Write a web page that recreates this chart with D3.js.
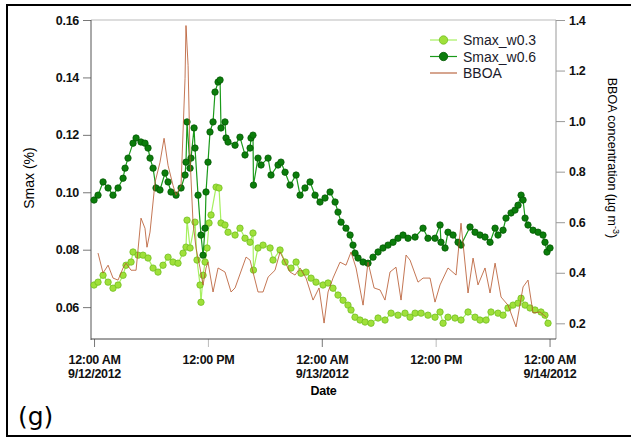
<!DOCTYPE html>
<html>
<head>
<meta charset="utf-8">
<script src="https://cdn.jsdelivr.net/npm/d3@7"></script>
<style>
  body { margin: 0; background: #fff; }
  svg { display: block; }
  .tick text { font-family: "Liberation Sans", Arial, sans-serif; font-weight: bold; font-size: 12.5px; fill: #111; letter-spacing: -0.3px; }
</style>
</head>
<body>
<div id="chart"></div>
<script>
// Data (hours from 9/12/2012 12:00 AM)

var w6Hours = [0, 0.42, 0.95, 1.48, 2.0, 2.53, 3.06, 3.27, 3.58, 4.11, 4.43, 4.95, 5.37, 5.69, 5.90, 6.22, 6.53, 6.95, 7.48, 7.80,
	8.11, 8.64, 9.17, 9.59, 9.69, 9.80, 10.12, 10.22, 10.54, 10.64, 10.96, 11.27, 11.49, 11.70, 11.80, 12.01, 12.22, 12.54, 12.75, 13.07,
	13.28, 13.38, 13.80, 13.91, 14.12, 14.86, 15.38, 15.91, 16.44, 16.54, 16.75, 16.80, 17.28, 17.60, 18.34, 18.65, 19.39, 19.70, 20.13, 20.65,
	21.29, 21.71, 22.23, 22.76, 23.29, 23.81, 24.34, 24.87, 25.40, 25.71, 26.03, 26.55, 26.98, 27.29, 27.50, 27.82, 28.35, 28.87, 29.40, 29.93,
	30.45, 30.98, 31.51, 32.03, 32.56, 33.09, 33.83, 34.67, 35.19, 35.93, 36.46, 36.56, 36.99, 37.30, 37.83, 38.36, 38.67, 39.62, 40.15, 40.67,
	41.20, 41.73, 42.26, 42.57, 43.10, 43.41, 43.94, 44.36, 44.68, 45.00, 45.21, 45.42, 45.73, 46.26, 46.79, 47.31, 47.52, 47.73, 48.05];
var w6Values = [0.0973, 0.0990, 0.1036, 0.1015, 0.0990, 0.1015, 0.1049, 0.1084, 0.1119, 0.1171, 0.1189, 0.1175, 0.1171, 0.1154, 0.1119, 0.1084, 0.1015, 0.1008, 0.1067, 0.1036,
	0.1001, 0.0990, 0.1015, 0.1060, 0.1105, 0.1245, 0.1084, 0.1119, 0.1224, 0.1154, 0.0990, 0.0851, 0.0781, 0.0875, 0.1001, 0.1105, 0.1210, 0.1245, 0.1349, 0.1384,
	0.1391, 0.1224, 0.1245, 0.1189, 0.1175, 0.1164, 0.1192, 0.1130, 0.1154, 0.1189, 0.1199, 0.1025, 0.1119, 0.1095, 0.1119, 0.1060, 0.1095, 0.1105, 0.1070, 0.1025,
	0.1060, 0.0990, 0.1015, 0.1036, 0.0990, 0.0966, 0.0980, 0.1001, 0.0966, 0.0931, 0.0896, 0.0875, 0.0851, 0.0816, 0.0788, 0.0771, 0.0757, 0.0753, 0.0774, 0.0792,
	0.0806, 0.0816, 0.0826, 0.0840, 0.0851, 0.0840, 0.0844, 0.0875, 0.0840, 0.0840, 0.0886, 0.0826, 0.0806, 0.0861, 0.0851, 0.0826, 0.0816, 0.0879, 0.0861, 0.0851,
	0.0844, 0.0826, 0.0875, 0.0851, 0.0868, 0.0910, 0.0928, 0.0938, 0.0955, 0.0990, 0.0973, 0.0910, 0.0886, 0.0868, 0.0861, 0.0851, 0.0826, 0.0792, 0.0806];

var w3Hours = [0, 0.42, 0.95, 1.48, 2.0, 2.53, 3.06, 3.37, 3.90, 4.11, 4.64, 5.16, 5.69, 6.22, 6.74, 7.27, 7.80, 8.32, 8.85, 9.38,
	9.69, 9.80, 10.12, 10.64, 10.85, 11.17, 11.27, 11.49, 11.70, 11.91, 12.12, 12.33, 12.86, 13.17, 13.38, 13.80, 14.12, 14.86, 15.38, 15.91,
	16.44, 16.75, 16.80, 17.28, 17.81, 18.55, 18.86, 19.60, 20.13, 20.76, 21.29, 21.81, 22.34, 22.87, 23.39, 24.13, 24.66, 25.18, 25.71, 26.24,
	26.76, 27.08, 27.50, 28.03, 28.56, 29.19, 29.93, 30.66, 31.30, 32.03, 32.77, 33.30, 33.83, 34.46, 35.19, 35.93, 36.46, 36.78, 37.30, 38.04,
	38.67, 39.41, 40.15, 40.67, 41.31, 41.83, 42.57, 43.10, 43.62, 44.15, 44.68, 45.00, 45.42, 45.94, 46.47, 47.10, 47.52, 47.84];
var w3Values = [0.0677, 0.0687, 0.0711, 0.0687, 0.0666, 0.0677, 0.0711, 0.0746, 0.0757, 0.0792, 0.0781, 0.0781, 0.0771, 0.0736, 0.0722, 0.0746, 0.0774, 0.0757, 0.0753, 0.0788,
	0.0809, 0.0903, 0.0806, 0.0896, 0.0764, 0.0677, 0.0617, 0.0711, 0.0757, 0.0806, 0.0893, 0.0921, 0.1018, 0.1015, 0.0893, 0.0886, 0.0861, 0.0851, 0.0875, 0.0840,
	0.0826, 0.0858, 0.0729, 0.0806, 0.0816, 0.0806, 0.0764, 0.0799, 0.0757, 0.0736, 0.0757, 0.0718, 0.0722, 0.0701, 0.0687, 0.0677, 0.0684, 0.0666, 0.0642, 0.0624,
	0.0607, 0.0590, 0.0565, 0.0555, 0.0548, 0.0544, 0.0562, 0.0555, 0.0579, 0.0572, 0.0579, 0.0565, 0.0579, 0.0579, 0.0572, 0.0565, 0.0583, 0.0544, 0.0565, 0.0562,
	0.0555, 0.0583, 0.0565, 0.0555, 0.0555, 0.0583, 0.0579, 0.0572, 0.0597, 0.0607, 0.0614, 0.0631, 0.0607, 0.0597, 0.0590, 0.0583, 0.0572, 0.0544];

var bboaHours = [0.42, 0.95, 1.48, 2.0, 2.53, 3.06, 3.37, 3.90, 4.43, 4.95, 5.37, 5.58, 5.90, 6.43, 6.95, 7.38, 7.80, 8.32, 8.64, 9.17,
	9.59, 9.69, 9.91, 10.12, 10.43, 10.75, 11.17, 11.49, 11.80, 12.01, 12.54, 13.07, 13.80, 14.44, 14.86, 16.02, 16.44, 16.75, 17.28, 17.81,
	18.34, 19.07, 19.60, 20.13, 20.65, 21.18, 21.71, 22.34, 23.08, 23.71, 24.24, 24.66, 25.18, 25.92, 26.55, 27.08, 27.61, 28.35, 28.87, 29.51,
	30.14, 30.66, 31.19, 31.82, 32.35, 32.88, 33.30, 34.14, 34.67, 35.41, 35.93, 36.46, 37.30, 38.15, 38.67, 39.41, 39.94, 40.46, 41.20, 41.73,
	42.26, 42.89, 43.62, 44.47, 45.21, 45.73, 46.26, 47.00, 47.63];
var bboaValues = [0.478, 0.399, 0.430, 0.379, 0.371, 0.419, 0.438, 0.410, 0.410, 0.616, 0.576, 0.501, 0.561, 0.758, 0.837, 0.932, 0.825, 0.746, 0.707, 0.746,
	1.169, 1.378, 1.220, 0.853, 0.600, 0.497, 0.419, 0.352, 0.419, 0.442, 0.324, 0.419, 0.403, 0.324, 0.340, 0.462, 0.450, 0.403, 0.324, 0.324,
	0.383, 0.410, 0.482, 0.442, 0.403, 0.391, 0.419, 0.379, 0.292, 0.340, 0.201, 0.324, 0.379, 0.442, 0.430, 0.482, 0.419, 0.272, 0.442, 0.340,
	0.332, 0.292, 0.403, 0.422, 0.292, 0.470, 0.450, 0.363, 0.379, 0.379, 0.284, 0.352, 0.419, 0.391, 0.596, 0.320, 0.458, 0.352, 0.419, 0.320,
	0.438, 0.304, 0.272, 0.186, 0.344, 0.371, 0.241, 0.245, 0.225];

var leftTicks = [0.06, 0.08, 0.10, 0.12, 0.14, 0.16];
var rightTicks = [0.2, 0.4, 0.6, 0.8, 1.0, 1.2, 1.4];
var dateTickHours = [0, 12, 24, 36, 48];
var dateTickLabels = [["12:00 AM", "9/12/2012"], ["12:00 PM", ""], ["12:00 AM", "9/13/2012"], ["12:00 PM", ""], ["12:00 AM", "9/14/2012"]];
var seriesNames = ["Smax_w0.3", "Smax_w0.6", "BBOA"];

var width = 631;
var height = 438;
var start = new Date(2012, 8, 12, 0, 0);

function toDate(h){
	return new Date(start.getTime() + h * 3600 * 1000);
}

function zip(hours, values){
	return hours.map(function(h, i){ return { date: toDate(h), value: values[i] }; });
}

var w3 = zip(w3Hours, w3Values);
var w6 = zip(w6Hours, w6Values);
var bboa = zip(bboaHours, bboaValues);

var plot = { left: 91, right: 556, top: 20, bottom: 339 };

var x = d3.scaleTime()
	.domain([toDate(-0.32), toDate(48.68)])
	.range([plot.left, plot.right]);

var yL = d3.scaleLinear()
	.domain([0.0489, 0.16])
	.range([plot.bottom, plot.top]);

var yR = d3.scaleLinear()
	.domain([0.138, 1.4])
	.range([plot.bottom, plot.top]);

var svg = d3.select("#chart")
	.append("svg")
	.attr("width", width)
	.attr("height", height);

// outer frame (right side runs off the page)
svg.append("rect")
	.attr("x", 7)
	.attr("y", 5)
	.attr("width", 700)
	.attr("height", 431)
	.style("fill", "none")
	.style("stroke", "#000")
	.style("stroke-width", 2);

// plot box
svg.append("line")
	.attr("x1", plot.left).attr("x2", plot.right)
	.attr("y1", plot.top).attr("y2", plot.top)
	.style("stroke", "#bbb").style("stroke-width", 1);

svg.append("line")
	.attr("x1", plot.right).attr("x2", plot.right)
	.attr("y1", plot.top).attr("y2", plot.bottom)
	.style("stroke", "#999").style("stroke-width", 1);

// axes
var gL = svg.append("g")
	.attr("transform", "translate(" + plot.left + ",0)")
	.call(d3.axisLeft(yL).tickValues(leftTicks).tickFormat(d3.format(".2f")).tickSize(8).tickPadding(4));

var gR = svg.append("g")
	.attr("transform", "translate(" + plot.right + ",0)")
	.call(d3.axisRight(yR).tickValues(rightTicks).tickFormat(d3.format(".1f")).tickSize(9).tickPadding(4));

var gB = svg.append("g")
	.attr("transform", "translate(0," + plot.bottom + ")")
	.call(d3.axisBottom(x).tickValues(dateTickHours.map(toDate)).tickSize(8).tickFormat(""));

[gL, gR, gB].forEach(function(g){
	g.select(".domain").remove();
	g.selectAll(".tick line").style("stroke", "#777");
});
gR.selectAll(".tick line").style("stroke", "#999");
gB.selectAll(".tick").filter(function(d, i){ return i % 2 == 1; }).select("line").style("stroke", "#bbb");

svg.append("line")
	.attr("x1", plot.left).attr("x2", plot.left)
	.attr("y1", plot.top).attr("y2", plot.bottom + 1)
	.style("stroke", "#555").style("stroke-width", 1);

svg.append("line")
	.attr("x1", plot.left).attr("x2", plot.right)
	.attr("y1", plot.bottom).attr("y2", plot.bottom)
	.style("stroke", "#444").style("stroke-width", 1);

// two line date labels
var dateText = gB.selectAll(".tick")
	.append("text")
	.attr("y", 25)
	.style("fill", "#111")
	.attr("text-anchor", "middle");

dateText.append("tspan")
	.attr("x", 0)
	.text(function(d, i){ return dateTickLabels[i][0]; });
dateText.append("tspan")
	.attr("x", 0)
	.attr("dy", 14)
	.text(function(d, i){ return dateTickLabels[i][1]; });

// axis titles
svg.append("text")
	.attr("x", (plot.left + plot.right) / 2)
	.attr("y", 395)
	.attr("text-anchor", "middle")
	.style("font-family", "Liberation Sans, Arial, sans-serif")
	.style("font-weight", "bold")
	.style("font-size", "12.5px")
	.style("letter-spacing", "-0.3px")
	.text("Date");

svg.append("text")
	.attr("transform", "translate(34,178) rotate(-90)")
	.attr("text-anchor", "middle")
	.style("font-family", "Liberation Sans, Arial, sans-serif")
	.style("font-size", "14px")
	.text("Smax (%)");

var rTitle = svg.append("text")
	.attr("transform", "translate(608,158) rotate(90)")
	.attr("text-anchor", "middle")
	.style("font-family", "Liberation Sans, Arial, sans-serif")
	.style("font-size", "12.5px");
rTitle.append("tspan").text("BBOA concentration (\u00b5g m");
rTitle.append("tspan").attr("dy", -5).style("font-size", "9px").text("-3");
rTitle.append("tspan").attr("dy", 5).text(")");

svg.append("text")
	.attr("x", 18)
	.attr("y", 425)
	.style("font-family", "DejaVu Sans, sans-serif")
	.style("font-size", "25px")
	.text("(g)");

// series
var lineL = d3.line()
	.x(d => x(d.date))
	.y(d => yL(d.value));

var lineR = d3.line()
	.x(d => x(d.date))
	.y(d => yR(d.value));

var styles = [
	{ line: "#a6f060", fill: "#9fe03a", stroke: "#72bf22" },
	{ line: "#1a9a1a", fill: "#0b7d0b", stroke: "#055a05" },
	{ line: "#b5552a" }
];

[w3, w6].forEach(function(data, k){
	var g = svg.append("g");
	g.append("path")
		.datum(data)
		.attr("d", lineL)
		.style("fill", "none")
		.style("stroke", styles[k].line)
		.style("stroke-width", 1.2);

	g.selectAll("circle")
		.data(data)
		.enter()
		.append("circle")
		.attr("cx", d => x(d.date))
		.attr("cy", d => yL(d.value))
		.attr("r", 3.2)
		.style("fill", styles[k].fill)
		.style("stroke", styles[k].stroke)
		.style("stroke-width", 0.8);
});

svg.append("path")
	.datum(bboa)
	.attr("d", lineR)
	.style("fill", "none")
	.style("stroke", styles[2].line)
	.style("stroke-width", 1)
	.style("stroke-opacity", 0.8);

// legend
var legend = svg.append("g")
	.attr("class", "legend")
	.attr("transform", "translate(430,40)");

var rows = legend.selectAll("g")
	.data(seriesNames)
	.enter()
	.append("g")
	.attr("transform", (d, i) => "translate(0," + (i * 16.5) + ")");

rows.append("line")
	.attr("x1", 0).attr("x2", 27)
	.style("stroke", (d, i) => i == 2 ? "#c8876a" : styles[i].line)
	.style("stroke-width", (d, i) => i == 2 ? 1.5 : 1.2);

rows.filter((d, i) => i < 2)
	.append("circle")
	.attr("cx", 13.5)
	.attr("r", 4.2)
	.style("fill", (d, i) => styles[i].fill)
	.style("stroke", (d, i) => styles[i].stroke)
	.style("stroke-width", 0.8);

rows.append("text")
	.attr("x", 33)
	.attr("y", 5)
	.style("font-family", "Liberation Sans, Arial, sans-serif")
	.style("font-size", "14px")
	.style("fill", "#1b1b2b")
	.text(d => d);
</script>
</body>
</html>
